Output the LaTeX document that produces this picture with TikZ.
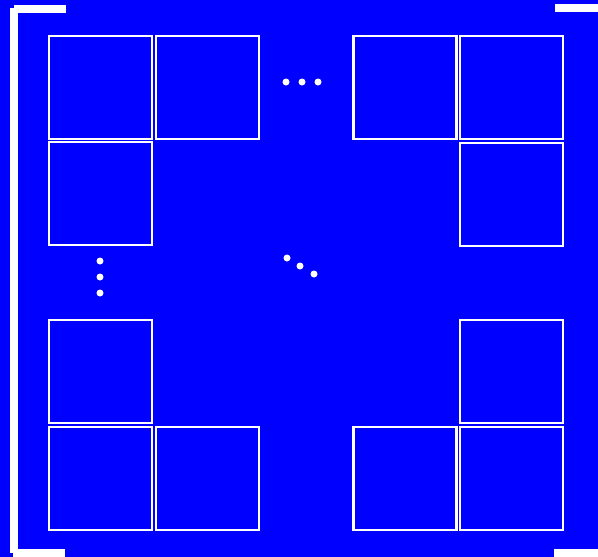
\documentclass[tikz,border=0pt]{standalone}
\begin{document}
\begin{tikzpicture}[x=1pt,y=-1pt,
  cell/.style={draw=white,line width=2.2pt,minimum width=103pt,minimum height=103pt,inner sep=0pt,outer sep=0pt},
  bar/.style={fill=white,draw=none},
  dot/.style={fill=white,draw=none,circle,inner sep=0pt,minimum size=7pt}]
\fill[blue] (0,0) rectangle (598,557);
\useasboundingbox (0,0) rectangle (598,557);
% brackets
\fill[white] (10,8) rectangle (18,553);
\fill[white] (14,5) rectangle (66,12.5);
\fill[white] (13,549) rectangle (65,557);
\fill[white] (555,4) rectangle (598,12);
\fill[white] (554,549) rectangle (598,557);
% cells
\node[cell] (tl1) at (100.3,87.3) {};
\node[cell] (tl2) at (207.3,87.3) {};
\node[cell] (tl3) at (100.3,193.7) {};
\node[cell] (tr1) at (405,87.8) {};
\node[cell] (tr2) at (511.7,87.8) {};
\node[cell] (tr3) at (511.7,194.5) {};
\node[cell] (bl1) at (100.7,371.7) {};
\node[cell] (bl2) at (100.7,478.7) {};
\node[cell] (bl3) at (207.3,478.7) {};
\node[cell] (br1) at (511.7,371.7) {};
\node[cell] (br2) at (405,478.7) {};
\node[cell] (br3) at (511.7,478.7) {};
% dots
\node[dot] (h1) at (286,82) {};
\node[dot] (h2) at (302,82) {};
\node[dot] (h3) at (318,82) {};
\node[dot] (v1) at (100,261) {};
\node[dot] (v2) at (100,277) {};
\node[dot] (v3) at (100,293) {};
\node[dot] (d1) at (287,258) {};
\node[dot] (d2) at (300,266) {};
\node[dot] (d3) at (314,274) {};
\end{tikzpicture}
\end{document}
